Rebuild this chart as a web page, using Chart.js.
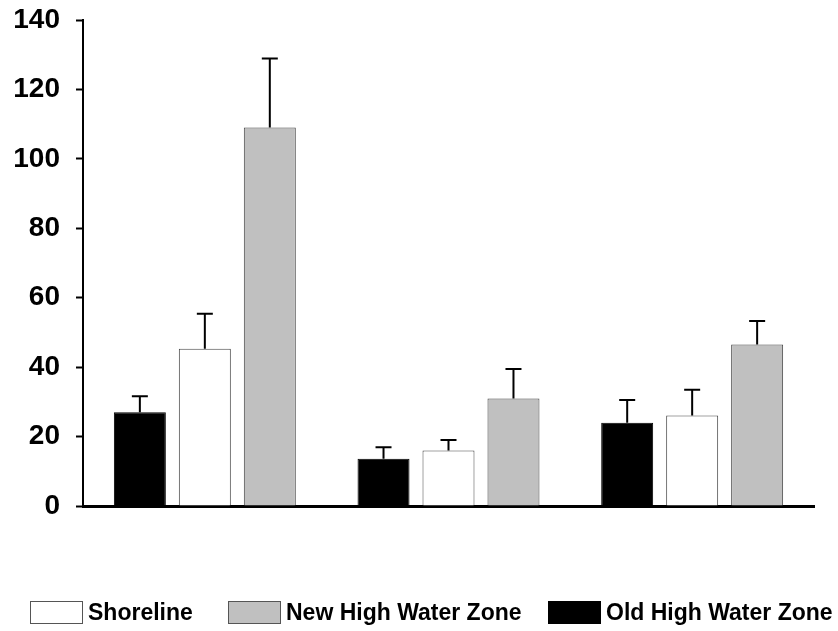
<!DOCTYPE html>
<html>
<head>
<meta charset="utf-8">
<script src="https://cdn.jsdelivr.net/npm/chart.js@4"></script>
<style>
  html, body { margin: 0; padding: 0; background: #fff; }
  #wrap { position: relative; width: 838px; height: 631px; }
  #legend { position: absolute; left: 0; top: 601px; width: 838px; height: 24px;
            font: bold 23px Arial, "Liberation Sans", sans-serif; color: #000; }
  .item { position: absolute; top: 0; display: flex; align-items: flex-start; line-height: 23px; white-space: nowrap; }
  .box { width: 53px; height: 23px; box-sizing: border-box; border: 1px solid #555; margin-right: 5px; }
</style>
</head>
<body>
<div id="wrap">
  <canvas id="myChart" width="838" height="631"></canvas>
  <div id="legend"></div>
</div>
<script>
// Groups along the x axis (no labels shown on the original)
const groups = ['1', '2', '3'];
// Means and upper error (SE) for each zone
const oldHigh = [27.0, 13.6, 24.0];
const oldHighErr = [4.6, 3.3, 6.5];
const shoreline = [45.3, 16.0, 26.1];
const shorelineErr = [10.1, 3.0, 7.4];
const newHigh = [109.0, 31.0, 46.5];
const newHighErr = [19.9, 8.5, 6.8];
// Y axis
const yMin = 0, yMax = 140, yStep = 20;

const FONT = 'Arial, "Liberation Sans", sans-serif';

// Draws the upward error bars on top of every bar
const errorBars = {
    id: 'errorBars',
    afterDatasetsDraw(chart) {
        const ctx = chart.ctx;
        const yScale = chart.scales.y;
        chart.data.datasets.forEach(function(ds, i) {
            const meta = chart.getDatasetMeta(i);
            meta.data.forEach(function(bar, j) {
                const top = yScale.getPixelForValue(ds.data[j] + ds.errors[j]);
                ctx.save();
                ctx.strokeStyle = '#000';
                ctx.lineWidth = 2;
                ctx.beginPath();
                ctx.moveTo(bar.x, bar.y);
                ctx.lineTo(bar.x, top);
                ctx.moveTo(bar.x - 8, top);
                ctx.lineTo(bar.x + 8, top);
                ctx.stroke();
                ctx.restore();
            });
        });
    }
};

const datasets = [
    { label: 'Old High Water Zone', data: oldHigh, errors: oldHighErr, backgroundColor: '#000000', borderColor: '#000000' },
    { label: 'Shoreline', data: shoreline, errors: shorelineErr, backgroundColor: '#ffffff', borderColor: '#444444' },
    { label: 'New High Water Zone', data: newHigh, errors: newHighErr, backgroundColor: '#c0c0c0', borderColor: '#444444' }
];
datasets.forEach(function(d) {
    d.borderWidth = 1;
    d.barPercentage = 0.8;
    d.categoryPercentage = 0.8;
});

var ctx = document.getElementById('myChart').getContext('2d');
var myChart = new Chart(ctx, {
    type: 'bar',
    data: { labels: groups, datasets: datasets },
    options: {
        responsive: false,
        animation: false,
        layout: { padding: { top: 20, right: 24, bottom: 125, left: 0 } },
        plugins: {
            legend: { display: false },
            tooltip: { enabled: false }
        },
        scales: {
            x: {
                grid: { display: false, drawTicks: false },
                ticks: { display: false },
                border: { display: true, color: '#000', width: 3 }
            },
            y: {
                min: yMin,
                max: yMax,
                afterFit: function(scale) {
                    scale.width = 83;
                    scale.paddingTop = 0;
                    scale.paddingBottom = 0;
                },
                ticks: {
                    stepSize: yStep,
                    padding: 16,
                    color: '#000',
                    font: { family: FONT, size: 28, weight: 'bold' }
                },
                grid: { drawOnChartArea: false, drawTicks: true, tickLength: 7, color: '#000', tickWidth: 2 },
                border: { display: true, color: '#000', width: 2 }
            }
        }
    },
    plugins: [errorBars]
});

// Legend in the original order: Shoreline, New High Water Zone, Old High Water Zone
const legendOrder = [1, 2, 0];
const legendLeft = [30, 228, 548];
const legendEl = document.getElementById('legend');
legendOrder.forEach(function(idx, k) {
    const d = datasets[idx];
    const item = document.createElement('div');
    item.className = 'item';
    item.style.left = legendLeft[k] + 'px';
    const box = document.createElement('span');
    box.className = 'box';
    box.style.background = d.backgroundColor;
    box.style.borderColor = idx === 0 ? '#000' : '#555';
    const txt = document.createElement('span');
    txt.textContent = d.label;
    item.appendChild(box);
    item.appendChild(txt);
    legendEl.appendChild(item);
});
</script>
</body>
</html>
